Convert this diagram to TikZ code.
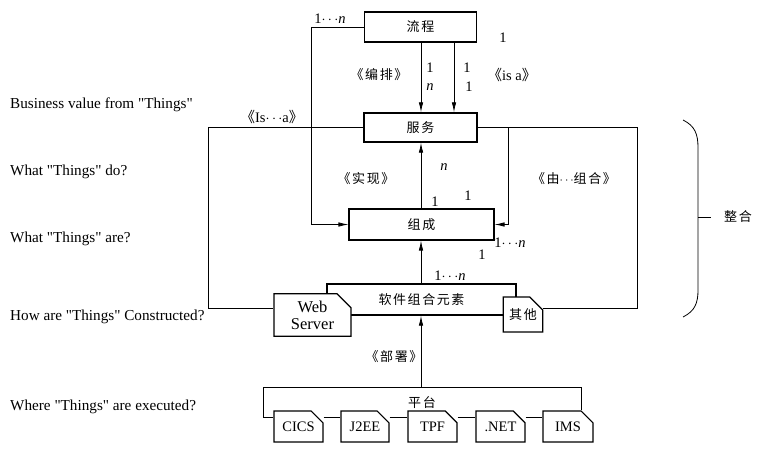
\documentclass[tikz,border=0pt]{standalone}
\usepackage{fontspec}
\setmainfont{Liberation Serif}
\newfontfamily\qf{Liberation Serif}
\newfontfamily\cjk{Noto Sans CJK SC}[LetterSpace=12]
\usetikzlibrary{arrows.meta,shapes.misc}
\begin{document}
\begin{tikzpicture}[x=1pt,y=-1pt,
  font=\fontsize{14.5}{17}\selectfont,
  box/.style={draw, line width=1.4pt, inner sep=0pt, fill=white},
  doc/.style={chamfered rectangle, chamfered rectangle corners=north east,
    chamfered rectangle xsep=7pt, chamfered rectangle ysep=7pt,
    draw, line width=1.2pt, fill=white, inner sep=0pt, align=center},
  conn/.style={line width=0.8pt},
  arr/.style={conn, -{Latex[length=10pt,width=4.5pt]}},
  lbl/.style={inner sep=0pt},
  zh/.style={font=\fontsize{13}{15}\selectfont\cjk},
  side/.style={anchor=west, inner sep=0pt, font=\fontsize{15.2}{17}\selectfont\qf}]
\useasboundingbox (0,0) rectangle (762,449);

% main boxes
\node[box, zh, minimum width=112pt, minimum height=30pt] (lc) at (420.5,27) {流程};
\node[box, zh, minimum width=113pt, minimum height=29pt] (fw) at (420.5,127.5) {服务};
\node[box, zh, line width=1.1pt, minimum width=145pt, minimum height=31pt] (zc) at (421.5,224.5) {组成};
\node[box, zh, minimum width=189pt, minimum height=31pt] (rj) at (421.5,299.5) {软件组合元素};
\node[doc, font=\fontsize{16.5}{17}\selectfont, minimum width=77pt, minimum height=32pt] (ws) at (312.5,315) {Web\\Server};
\node[doc, zh, minimum width=38pt, minimum height=35pt] (os) at (523,314.5) {其他};

% platform boxes
\node[doc, minimum width=49pt, minimum height=31pt] (cics) at (298.5,426.5) {CICS};
\node[doc, minimum width=48pt, minimum height=31pt] (j2ee) at (365,426.5) {J2EE};
\node[doc, minimum width=49pt, minimum height=31pt] (tpf) at (432.5,426.5) {TPF};
\node[doc, minimum width=49pt, minimum height=31pt] (net) at (500.5,426.5) {.NET};
\node[doc, minimum width=50pt, minimum height=31pt] (ims) at (568,426.5) {IMS};

% helper coordinates
\coordinate (ax) at (421,0);
\coordinate (lx) at (311,0);
\coordinate (rx) at (508,0);
\coordinate (ol) at (208,308);
\coordinate (or) at (637,308);
\coordinate (pl) at (263,387);
\coordinate (pr) at (581,387);
\coordinate (pb) at (263,417);

% connectors
\draw[arr] ([xshift=0.5pt]lc.south) -- ([xshift=0.5pt]lc.south |- fw.north);
\draw[arr] ([xshift=33.5pt]lc.south) -- ([xshift=33.5pt]lc.south |- fw.north);
\draw[arr] (zc.north -| ax) -- (fw.south -| ax);
\draw[arr] (rj.north -| ax) -- (zc.south -| ax);
\draw[arr] (ax |- pl) -- (rj.south -| ax);
\draw[arr] (lc.west) -- (lc.west -| lx) -- (zc.west -| lx) -- (zc.west);
\draw[arr] (fw.east -| rx) -- (zc.east -| rx) -- (zc.east);
\draw[conn] (fw.west) -- (fw.west -| ol) -- (ol) -- (ws.west |- ol);
\draw[conn] (fw.east) -- (fw.east -| or) -- (or) -- (os.east |- or);
\draw[conn] (cics.west |- pb) -- (pb) -- (pl) -- (pr) -- (pr |- ims.north);
\draw[conn] (cics.east |- pb) -- (j2ee.west |- pb);
\draw[conn] (j2ee.east |- pb) -- (tpf.west |- pb);
\draw[conn] (tpf.east |- pb) -- (net.west |- pb);
\draw[conn] (net.east |- pb) -- (ims.west |- pb);

% labels
\node[lbl] (m1) at (330,19) {1$\cdots$\textit{n}};
\node[lbl] (m2) at (503,38) {1};
\node[lbl, zh] (m3) at (379,75) {《编排》};
\node[lbl] (m4) at (430,68) {1};
\node[lbl] (m5) at (430,87) {\textit{n}};
\node[lbl] (m6) at (467,68) {1};
\node[lbl] (m7) at (469,87) {1};
\node[lbl] (m8) at (512,75) {{\cjk 《}is a{\cjk 》}};
\node[lbl] (m9) at (272,117) {{\cjk 《}Is$\cdots$a{\cjk 》}};
\node[lbl, zh] (m10) at (366,179) {《实现》};
\node[lbl] (m11) at (444,167) {\textit{n}};
\node[lbl] (m12) at (435,202) {1};
\node[lbl] (m13) at (468,196) {1};
\node[lbl, zh] (m14) at (574,179) {《由$\cdots$组合》};
\node[lbl] (m15) at (510,243) {1$\cdots$\textit{n}};
\node[lbl] (m16) at (482,255) {1};
\node[lbl] (m17) at (450,276) {1$\cdots$\textit{n}};
\node[lbl, zh] (m18) at (394,357) {《部署》};
\node[lbl, zh] (m19) at (422,403) {平台};

% side texts
\node[side] (s1) at (10,105) {Business value from "Things"};
\node[side] (s2) at (10,172) {What "Things" do?};
\node[side] (s3) at (10,239) {What "Things" are?};
\node[side] (s4) at (10,317) {How are "Things" Constructed?};
\node[side] (s5) at (10,407) {Where "Things" are executed?};

% brace
\draw[conn] (683,120) .. controls (695,126) and (698,134) .. (698,148) -- (698,290) .. controls (698,303) and (695,311) .. (683,317);
\coordinate (bt) at (698,217);
\node[lbl, zh] (zh1) at (738,217) {整合};
\draw[conn] (bt) -- (711,217);
\end{tikzpicture}
\end{document}
